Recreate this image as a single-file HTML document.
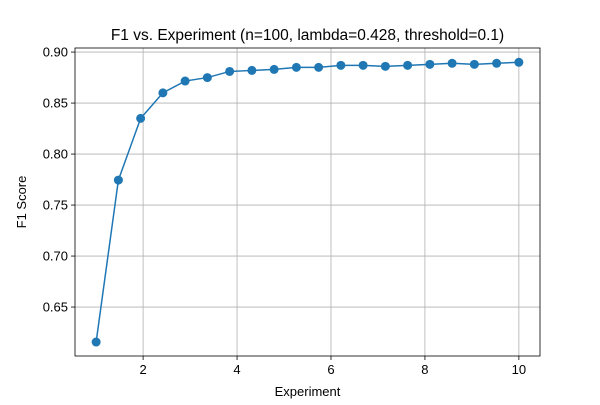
<!DOCTYPE html>
<html><head><meta charset="utf-8"><style>
body{margin:0;background:#fff;font-family:"Liberation Sans","DejaVu Sans",sans-serif}
</style></head><body>
<svg id="chart" width="600" height="400" xmlns="http://www.w3.org/2000/svg"></svg>
<script>
const xValues=[1,1.4737,1.9474,2.4211,2.8947,3.3684,3.8421,4.3158,4.7895,5.2632,5.7368,6.2105,6.6842,7.1579,7.6316,8.1053,8.5789,9.0526,9.5263,10];
const f1Values=[0.6157,0.7745,0.835,0.860,0.8716,0.875,0.881,0.882,0.883,0.885,0.885,0.887,0.887,0.886,0.887,0.888,0.889,0.888,0.889,0.890];
const xTicks=[2,4,6,8,10];
const yTicks=[0.65,0.70,0.75,0.80,0.85,0.90];
const NS="http://www.w3.org/2000/svg";
const svg=document.getElementById('chart');
const L=75,R=540,T=48,B=356;
const xMin=0.55,xMax=10.45,yMin=0.602,yMax=0.904;
const sx=v=>L+(v-xMin)/(xMax-xMin)*(R-L);
const sy=v=>B-(v-yMin)/(yMax-yMin)*(B-T);
function mk(tag,attrs,parent){const e=document.createElementNS(NS,tag);for(const k in attrs)e.setAttribute(k,attrs[k]);(parent||svg).appendChild(e);return e;}
const grid=mk('g',{});


xTicks.forEach(t=>{const x=sx(t);
mk('line',{x1:x,x2:x,y1:T,y2:B,stroke:'#b0b0b0','stroke-width':0.8},grid);
mk('line',{x1:x,x2:x,y1:B,y2:B+4,stroke:'#000','stroke-width':0.8});
const tx=mk('text',{x:x,y:B+18,'text-anchor':'middle','font-size':13,fill:'#000'});tx.textContent=t;

});
yTicks.forEach(t=>{const y=sy(t);
mk('line',{x1:L,x2:R,y1:y,y2:y,stroke:'#b0b0b0','stroke-width':0.8},grid);
mk('line',{x1:L-4,x2:L,y1:y,y2:y,stroke:'#000','stroke-width':0.8});
const tx=mk('text',{x:L-7,y:y+4.5,'text-anchor':'end','font-size':13,fill:'#000'});tx.textContent=t.toFixed(2);

});
const pts=xValues.map((v,i)=>sx(v)+','+sy(f1Values[i])).join(' ');
const line=mk('polyline',{points:pts,fill:'none',stroke:'#1f77b4','stroke-width':1.5});


xValues.forEach((v,i)=>{const c=mk('circle',{cx:sx(v),cy:sy(f1Values[i]),r:4.5,fill:'#1f77b4'});

});
const frame=mk('rect',{x:L,y:T,width:R-L,height:B-T,fill:'none',stroke:'#000','stroke-width':0.8});


const title=mk('text',{x:(L+R)/2,y:40,'text-anchor':'middle','font-size':15.5,fill:'#000'});
title.textContent='F1 vs. Experiment (n=100, lambda=0.428, threshold=0.1)';


const xl=mk('text',{x:(L+R)/2,y:396,'text-anchor':'middle','font-size':13,fill:'#000'});
xl.textContent='Experiment';


const yl=mk('text',{x:0,y:0,'text-anchor':'middle','font-size':13,fill:'#000',transform:'translate(26,'+((T+B)/2)+') rotate(-90)'});
yl.textContent='F1 Score';


</script>
</body></html>
